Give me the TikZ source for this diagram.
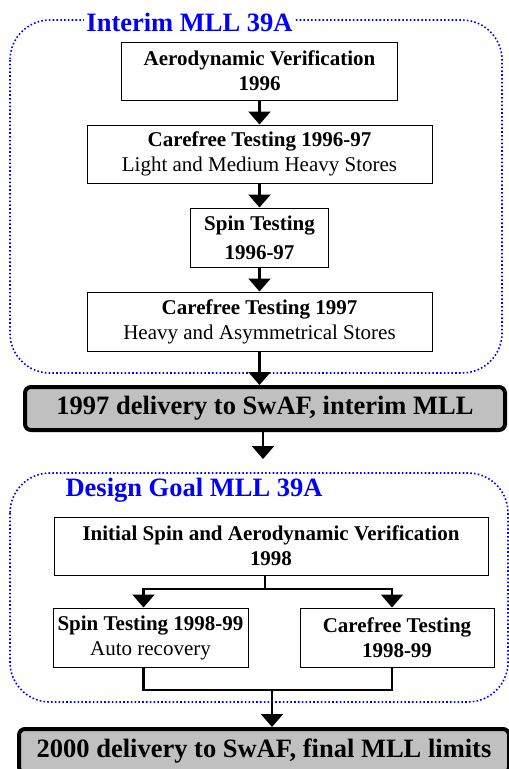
\documentclass[tikz,border=0pt]{standalone}
\usepackage{fontspec}
\setmainfont{Liberation Serif}
\usetikzlibrary{arrows.meta, positioning}
\definecolor{frameblue}{RGB}{0,0,255}
\definecolor{delivgray}{RGB}{192,192,192}

\begin{document}
\begin{tikzpicture}[x=1pt,y=-1pt,
  stepbox/.style={draw,line width=1pt,fill=white,inner sep=0pt,align=center,font=\fontsize{21}{25}\selectfont},
  delivery/.style={draw,line width=4pt,rounded corners=6pt,fill=delivgray,inner sep=0pt,font=\fontsize{26.5}{30}\selectfont\bfseries},
  groupframe/.style={draw=frameblue,line width=1.6pt,dash pattern=on 1.6pt off 2.2pt,rounded corners=40pt},
  grouptitle/.style={text=frameblue,inner sep=2pt,font=\fontsize{26.5}{30}\selectfont\bfseries},
  arr/.style={-{Triangle[width=22pt,length=13pt]},line width=2.2pt},
  link/.style={line width=2.2pt}]
\useasboundingbox (0,0) rectangle (509,769);

% Interim MLL
\draw[groupframe] (10,20) rectangle (502,373);
\node[grouptitle,fill=white] (interim) at (189.5,22) {Interim MLL 39A};

\node[stepbox,minimum width=276,minimum height=58] (aero) at (259.5,71) {\textbf{Aerodynamic Verification}\\\textbf{1996}};
\node[stepbox,minimum width=345,minimum height=58] (carelight) at (259.5,154) {\textbf{Carefree Testing 1996-97}\\Light and Medium Heavy Stores};
\node[stepbox,minimum width=138,minimum height=59] (spin) at (259.5,237.5) {\textbf{Spin Testing}\\[4pt]\textbf{1996-97}};
\node[stepbox,minimum width=345,minimum height=59] (careheavy) at (259.5,321.5) {\textbf{Carefree Testing 1997}\\Heavy and Asymmetrical Stores};

\draw[arr] (aero) -- (carelight);
\draw[arr] (carelight) -- (spin);
\draw[arr] (spin) -- (careheavy);

% first delivery
\node[delivery,minimum width=480,minimum height=43] (deliv97) at (265,408.5) {1997 delivery to SwAF, interim MLL};
\draw[arr] (careheavy.south) -- (careheavy.south |- deliv97.north);
\coordinate (gap) at (263,459);
\draw[arr] (deliv97.south -| gap) -- (gap);

% Design goal MLL
\draw[groupframe] (10,473) rectangle (508,702);
\node[grouptitle] (goal) at (194,490) {Design Goal MLL 39A};

\node[stepbox,minimum width=434,minimum height=58] (initial) at (271,546) {\textbf{Initial Spin and Aerodynamic Verification}\\\textbf{1998}};
\node[stepbox,minimum width=195,minimum height=59] (spinauto) at (150.5,637.5) {\textbf{Spin Testing 1998-99}\\Auto recovery};
\node[stepbox,minimum width=194,minimum height=59] (carefree) at (397,637.5) {\textbf{Carefree Testing}\\\textbf{1998-99}};

\coordinate (split) at (265,589);
\draw[link] (split |- initial.south) -- (split);
\draw[arr] (split) -| ([xshift=-7pt]spinauto.north);
\draw[arr] (split) -| ([xshift=-5pt]carefree.north);

\coordinate (merge) at (272,690);
\draw[link] ([xshift=-7pt]spinauto.south) |- (merge) -| ([xshift=-5pt]carefree.south);

% final delivery
\node[delivery,minimum width=490,minimum height=44] (deliv00) at (264,751) {2000 delivery to SwAF, final MLL limits};
\draw[arr] (merge) -- (merge |- deliv00.north);
\end{tikzpicture}
\end{document}
